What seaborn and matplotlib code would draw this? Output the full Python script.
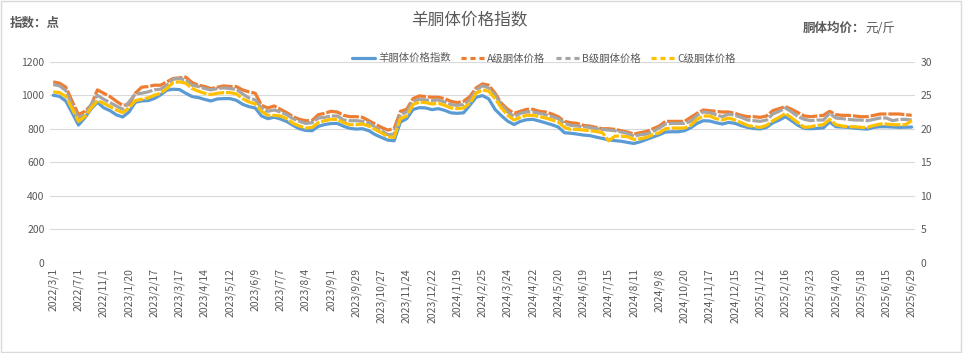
import numpy as np
import pandas as pd
import matplotlib
matplotlib.use("Agg")
import matplotlib.pyplot as plt
from matplotlib.patches import Rectangle
import seaborn as sns

# x-axis labels (one every 4th data point)
tick_labels = ['2022/3/1', '2022/7/1', '2022/11/1', '2023/1/20', '2023/2/17', '2023/3/17',
               '2023/4/14', '2023/5/12', '2023/6/9', '2023/7/7', '2023/8/4', '2023/9/1',
               '2023/9/29', '2023/10/27', '2023/11/24', '2023/12/22', '2024/1/19', '2024/2/25',
               '2024/3/24', '2024/4/22', '2024/5/20', '2024/6/19', '2024/7/15', '2024/8/11',
               '2024/9/8', '2024/10/20', '2024/11/17', '2024/12/15', '2025/1/12', '2025/2/16',
               '2025/3/23', '2025/4/20', '2025/5/18', '2025/6/15', '2025/6/29']

# 羊胴体价格指数 (left axis, 点)
index_vals = [1000, 993, 965, 895, 822, 865, 918, 958, 925, 908, 883, 870, 900, 958, 966, 968,
              980, 1002, 1030, 1036, 1034, 1012, 992, 986, 975, 966, 978, 980, 980, 970, 946, 932,
              924, 876, 860, 869, 858, 843, 820, 800, 790, 788, 814, 825, 831, 832, 815, 802,
              798, 800, 788, 765, 748, 732, 728, 840, 860, 915, 926, 924, 914, 920, 910, 895,
              892, 895, 940, 988, 998, 978, 915, 878, 845, 825, 844, 854, 856, 846, 835, 824,
              810, 776, 773, 768, 762, 759, 750, 742, 733, 729, 725, 718, 712, 722, 736, 750,
              764, 780, 782, 782, 788, 806, 832, 848, 846, 836, 828, 838, 832, 818, 808, 801,
              799, 808, 835, 851, 872, 847, 820, 802, 800, 802, 805, 840, 812, 810, 808, 803,
              800, 798, 808, 812, 812, 810, 808, 809, 810]

# 胴体均价 (right axis, 元/斤)
grade_a = [27.0, 26.8, 26.2, 24.1, 22.1, 22.6, 23.5, 25.8, 25.3, 24.8, 24.1, 23.5, 23.6, 25.3, 26.2, 26.3,
           26.5, 26.5, 27.0, 27.5, 27.6, 27.7, 26.9, 26.5, 26.3, 26.0, 26.2, 26.4, 26.3, 26.3, 25.8, 25.5,
           25.3, 23.5, 23.1, 23.4, 22.9, 22.4, 21.8, 21.4, 21.2, 21.2, 22.1, 22.3, 22.6, 22.5, 22.0, 21.8,
           21.8, 21.7, 21.2, 20.7, 20.2, 19.8, 20.0, 22.6, 22.9, 24.5, 24.9, 24.8, 24.7, 24.7, 24.5, 24.1,
           23.9, 24.1, 24.8, 26.1, 26.7, 26.5, 25.3, 23.8, 22.9, 22.3, 22.6, 22.9, 22.9, 22.6, 22.5, 22.2,
           21.8, 21.1, 20.9, 20.8, 20.5, 20.4, 20.2, 20.0, 20.0, 19.9, 19.7, 19.5, 19.2, 19.4, 19.6, 20.0,
           20.4, 21.1, 21.1, 21.1, 21.1, 21.7, 22.3, 22.8, 22.7, 22.6, 22.5, 22.5, 22.3, 22.0, 21.8, 21.8,
           21.7, 21.9, 22.7, 23.0, 23.3, 22.9, 22.4, 21.9, 21.8, 21.9, 22.0, 22.6, 22.1, 22.0, 22.0, 21.9,
           21.8, 21.8, 22.0, 22.2, 22.2, 22.2, 22.2, 22.1, 22.0]
grade_b = [26.6, 26.4, 25.7, 23.4, 21.6, 22.1, 23.6, 25.0, 24.4, 23.9, 23.4, 22.9, 24.0, 25.2, 25.3, 25.5,
           25.8, 25.9, 26.5, 27.4, 27.5, 27.3, 26.5, 26.3, 26.0, 25.8, 26.0, 26.1, 26.0, 25.9, 25.2, 24.6,
           24.3, 23.1, 22.6, 22.8, 22.5, 22.1, 21.5, 21.1, 20.8, 20.9, 21.6, 21.7, 21.9, 21.9, 21.3, 21.2,
           21.2, 21.1, 20.9, 20.2, 19.7, 19.1, 19.2, 22.1, 22.5, 24.1, 24.4, 24.3, 24.2, 24.3, 24.0, 23.6,
           23.5, 23.6, 24.3, 25.8, 26.4, 26.1, 25.0, 23.6, 22.5, 21.8, 22.3, 22.5, 22.5, 22.3, 22.1, 21.8,
           21.5, 20.8, 20.5, 20.4, 20.3, 20.2, 20.0, 19.9, 19.8, 19.7, 19.5, 19.3, 18.9, 19.1, 19.2, 19.6,
           20.1, 20.7, 20.8, 20.8, 20.8, 21.1, 22.0, 22.5, 22.4, 22.1, 21.8, 22.2, 22.0, 21.7, 21.3, 21.2,
           21.1, 21.3, 22.2, 22.6, 23.1, 22.5, 21.8, 21.4, 21.2, 21.3, 21.3, 22.3, 21.6, 21.5, 21.4, 21.3,
           21.3, 21.2, 21.4, 21.6, 21.6, 21.2, 21.4, 21.4, 21.3]
grade_c = [25.5, 25.4, 24.8, 23.0, 21.1, 21.8, 23.1, 24.2, 23.8, 23.3, 22.8, 22.4, 23.1, 24.2, 24.4, 24.6,
           25.0, 25.3, 26.0, 26.9, 27.0, 26.8, 26.0, 25.6, 25.3, 25.1, 25.3, 25.4, 25.4, 25.2, 24.5, 24.0,
           23.7, 22.6, 22.0, 22.0, 21.9, 21.5, 20.8, 20.4, 20.1, 20.2, 20.9, 21.2, 21.4, 21.4, 20.9, 20.6,
           20.6, 20.7, 20.4, 19.9, 19.4, 18.8, 18.7, 21.5, 21.9, 23.6, 24.0, 23.9, 23.7, 23.8, 23.5, 23.1,
           23.0, 23.1, 23.8, 25.3, 25.8, 25.6, 24.5, 23.1, 22.0, 21.3, 21.7, 22.0, 22.0, 21.8, 21.6, 21.3,
           21.0, 20.2, 19.9, 19.9, 19.8, 19.7, 19.6, 19.4, 18.2, 18.9, 18.9, 18.8, 18.4, 18.5, 18.7, 19.1,
           19.4, 20.0, 20.1, 20.1, 20.1, 20.5, 21.4, 21.9, 21.9, 21.5, 21.3, 21.6, 21.3, 20.9, 20.5, 20.3,
           20.2, 20.5, 21.2, 21.7, 22.3, 21.6, 20.9, 20.2, 20.3, 20.5, 20.6, 21.4, 20.6, 20.4, 20.3, 20.3,
           20.2, 20.2, 20.5, 20.7, 20.7, 20.6, 20.6, 20.6, 21.2]

df = pd.DataFrame({'idx': np.arange(len(index_vals)), '指数': index_vals,
                   'A': grade_a, 'B': grade_b, 'C': grade_c})

sns.set_style('white')
plt.rcParams['font.family'] = ['Noto Sans CJK SC', 'DejaVu Sans']

txt = '#595959'
grid = '#d9d9d9'
fig = plt.figure(figsize=(9.63, 3.53), dpi=100)
ax = fig.add_axes([0.052, 0.256, 0.898, 0.569])
ax2 = ax.twinx()

dash = (0, (5, 0.6))
sns.lineplot(data=df, x='idx', y='指数', ax=ax, color='#5B9BD5', lw=2.3, label='羊胴体价格指数', legend=False)
sns.lineplot(data=df, x='idx', y='A', ax=ax2, color='#ED7D31', lw=2.3, linestyle=dash, label='A级胴体价格', legend=False)
sns.lineplot(data=df, x='idx', y='B', ax=ax2, color='#A5A5A5', lw=2.3, linestyle=dash, label='B级胴体价格', legend=False)
sns.lineplot(data=df, x='idx', y='C', ax=ax2, color='#FFC000', lw=2.3, linestyle=dash, label='C级胴体价格', legend=False)

ax.set_ylim(0, 1200)
ax.set_yticks(range(0, 1201, 200))
ax2.set_ylim(0, 30)
ax2.set_yticks(range(0, 31, 5))
ax.set_xlim(-0.5, len(index_vals) - 0.5)
ax.set_xticks(np.arange(0, len(index_vals), 4))
ax.set_xticklabels(tick_labels, rotation=90, fontsize=7, color=txt)
ax.grid(axis='y', color=grid, lw=0.8)
ax.set_axisbelow(True)
for a in (ax, ax2):
    for s in a.spines.values():
        s.set_visible(False)
    a.set_xlabel('')
    a.set_ylabel('')
    a.tick_params(length=0, labelsize=7.5, labelcolor=txt, pad=4)

# legend from both axes
h1, l1 = ax.get_legend_handles_labels()
h2, l2 = ax2.get_legend_handles_labels()
leg = fig.legend(h1 + h2, l1 + l2, loc='center', bbox_to_anchor=(0.565, 0.835), ncol=4, frameon=False,
                 fontsize=7.5, labelcolor=txt, handlelength=2.2, columnspacing=1.0, handletextpad=0.3)
for line in leg.get_lines()[1:]:
    line.set_linestyle((0, (1.6, 1.2)))

fig.text(0.487, 0.94, '羊胴体价格指数', ha='center', va='center', fontsize=12, color=txt)
fig.text(0.01, 0.935, '指数：点', ha='left', va='center', fontsize=9, color=txt, fontweight='bold')
t1 = fig.text(0.834, 0.92, '胴体均价：', ha='left', va='center', fontsize=9, color=txt, fontweight='bold')
ax.annotate('元/斤', xy=(1.0, 0.5), xycoords=t1, ha='left', va='center', fontsize=9, color=txt)

fig.patches.append(Rectangle((0.001, 0.002), 0.997, 0.995, transform=fig.transFigure,
                             fill=False, edgecolor=grid, lw=1))

plt.savefig('out.png', dpi=100)
